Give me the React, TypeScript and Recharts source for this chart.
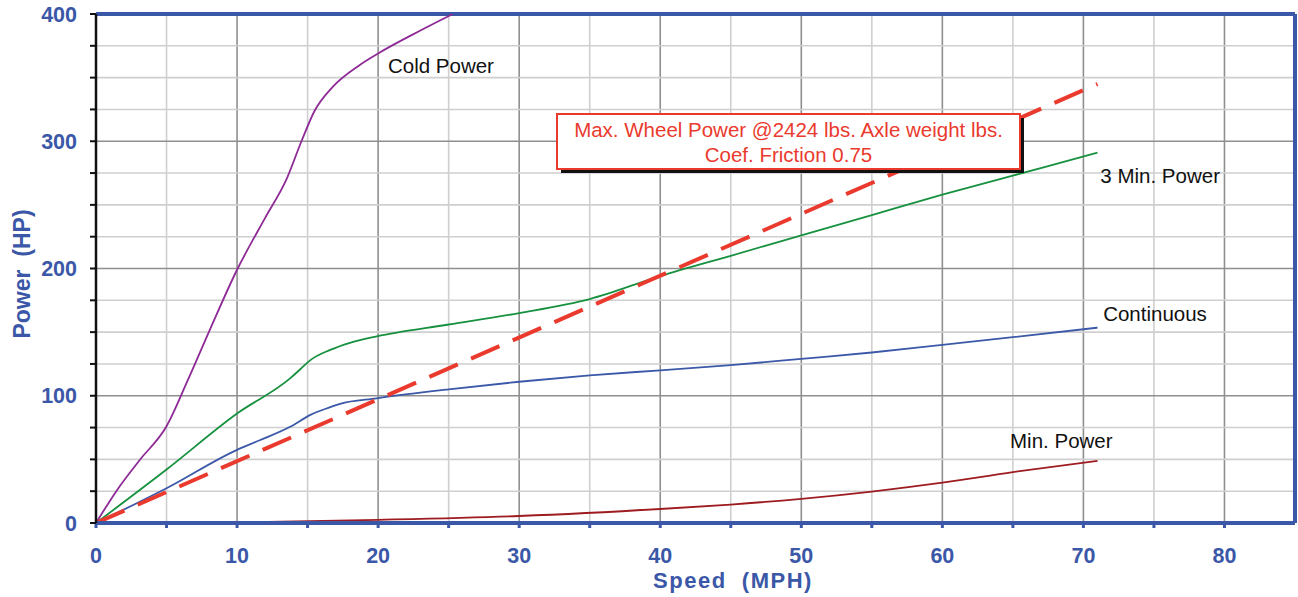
import React from 'react';
import { LineChart, Line, XAxis, YAxis, ReferenceLine, ReferenceDot } from 'recharts';

// ---- data (Speed in MPH, Power in HP) ----
const coldSpeed = [0, 1.5, 3.1, 5, 6.5, 8, 10, 12, 13.5, 14.6, 15.5, 16.8, 18.7, 20, 23, 25.3];
const coldPower = [0, 26, 49.5, 76, 112, 150, 199, 240, 270, 301, 324, 343, 360, 369, 387, 400];

const threeMinSpeed = [0, 5, 10, 13.8, 14.5, 15.2, 16.6, 18, 19.9, 25, 30, 35, 40, 45, 50, 55, 60, 65, 71];
const threeMinPower = [0, 42, 86, 114, 121, 128, 136, 141.6, 146.7, 156, 165, 176, 194, 210, 226, 242, 258, 273, 291];

const contSpeed = [0, 5, 10, 11.6, 13.8, 15.2, 16.6, 17.3, 19.9, 25, 30, 35, 40, 45, 50, 55, 60, 65, 71];
const contPower = [0, 27.3, 57.5, 65, 75.8, 85, 91, 93.7, 98, 105, 111, 116, 120, 124, 129, 134, 140, 146, 153.5];

const minSpeed = [0, 10, 20, 30, 40, 45, 50, 55, 60, 65, 71];
const minPower = [0, 0.5, 2.5, 5.5, 11, 14.5, 19, 24.7, 31.7, 40, 48.8];

const wheelSpeed = [0, 71];
const wheelPower = [0, 345];

const xTicks = [0, 5, 10, 15, 20, 25, 30, 35, 40, 45, 50, 55, 60, 65, 70, 75, 80];
const yTicks = [0, 25, 50, 75, 100, 125, 150, 175, 200, 225, 250, 275, 300, 325, 350, 375, 400];
const xGrid = [5, 10, 15, 20, 25, 30, 35, 40, 45, 50, 55, 60, 65, 70, 75, 80];
const yGrid = [25, 50, 75, 100, 125, 150, 175, 200, 225, 250, 275, 300, 325, 350, 375];

const seriesLabels = ['Cold Power', '3 Min. Power', 'Continuous', 'Min. Power'];
const seriesLabelSpeed = [20.7, 71.2, 71.4, 64.8];
const seriesLabelPower = [353.6, 267.2, 159.0, 59.2];

const noteLines = ['Max. Wheel Power @2424 lbs. Axle weight lbs.', 'Coef. Friction 0.75'];

const xTitle = 'Speed  (MPH)';
const yTitle = 'Power  (HP)';

const toPoints = (xs: number[], ys: number[]) => xs.map((v, i) => ({ v, p: ys[i] }));

const coldData = toPoints(coldSpeed, coldPower);
const threeMinData = toPoints(threeMinSpeed, threeMinPower);
const contData = toPoints(contSpeed, contPower);
const minData = toPoints(minSpeed, minPower);
const wheelData = toPoints(wheelSpeed, wheelPower);

const FONT = '"Liberation Sans", Arial, Helvetica, sans-serif';
const BLUE = '#3b57a7';
const RED = '#ea3a2e';

const XTick = (props: any) => {
  const { x, y, payload } = props;
  if (payload.value % 10 !== 0) return <g />;
  return (
    <text x={x} y={y} dy="0.71em" textAnchor="middle" fill={BLUE} fontFamily={FONT} fontWeight="bold" fontSize={21.5}>
      {payload.value}
    </text>
  );
};

const YTick = (props: any) => {
  const { x, y, payload } = props;
  if (payload.value % 100 !== 0) return <g />;
  return (
    <text x={x} y={y} dy="0.36em" textAnchor="end" fill={BLUE} fontFamily={FONT} fontWeight="bold" fontSize={21.5}>
      {payload.value}
    </text>
  );
};

const makeLabelShape = (text: string) => (props: any) => {
  const { cx, cy } = props;
  return (
    <text x={cx} y={cy} fill="#111" fontFamily={FONT} fontSize={20.5}>
      {text}
    </text>
  );
};

export default function App() {
  return (
    <div style={{ position: 'absolute', left: 0, top: 0, width: 1298, height: 597, background: '#fff' }}>
      <LineChart width={1298} height={597} margin={{ top: 14, right: 3, bottom: 24, left: 10 }}>
        <XAxis
          type="number"
          dataKey="v"
          domain={[0, 85]}
          ticks={xTicks}
          interval={0}
          allowDataOverflow
          height={50}
          axisLine={{ stroke: BLUE, strokeWidth: 4 }}
          tickLine={{ stroke: BLUE, strokeWidth: 3 }}
          tickSize={5}
          tickMargin={20}
          tick={<XTick />}
        />
        <YAxis
          type="number"
          dataKey="p"
          domain={[0, 400]}
          ticks={yTicks}
          interval={0}
          allowDataOverflow
          width={86}
          axisLine={{ stroke: '#111', strokeWidth: 2.5 }}
          tickLine={{ stroke: '#111', strokeWidth: 2 }}
          tickSize={6}
          tickMargin={13}
          tick={<YTick />}
        />
        {xGrid.map((g) => (
          <ReferenceLine key={'vx' + g} x={g} stroke={g % 10 === 0 ? '#8f8f8f' : '#cfcfcf'} strokeWidth={1.6} />
        ))}
        {yGrid.map((g) => (
          <ReferenceLine key={'hy' + g} y={g} stroke={g % 100 === 0 ? '#8f8f8f' : '#cfcfcf'} strokeWidth={1.6} />
        ))}
        <ReferenceLine y={400} stroke={BLUE} strokeWidth={4} />
        <ReferenceLine x={85} stroke={BLUE} strokeWidth={4} />

        <Line data={coldData} dataKey="p" type="monotone" stroke="#8e2a96" strokeWidth={1.8} dot={false} activeDot={false} isAnimationActive={false} />
        <Line data={threeMinData} dataKey="p" type="monotone" stroke="#17913f" strokeWidth={1.8} dot={false} activeDot={false} isAnimationActive={false} />
        <Line data={contData} dataKey="p" type="monotone" stroke="#3c58a8" strokeWidth={1.8} dot={false} activeDot={false} isAnimationActive={false} />
        <Line data={minData} dataKey="p" type="monotone" stroke="#9e1b20" strokeWidth={1.8} dot={false} activeDot={false} isAnimationActive={false} />
        <Line data={wheelData} dataKey="p" type="linear" stroke={RED} strokeWidth={4} strokeDasharray="31 14.5" dot={false} activeDot={false} isAnimationActive={false} />

        {seriesLabels.map((t, i) => (
          <ReferenceDot key={t} x={seriesLabelSpeed[i]} y={seriesLabelPower[i]} r={0} shape={makeLabelShape(t)} />
        ))}
      </LineChart>
      <svg width={1298} height={597} style={{ position: 'absolute', left: 0, top: 0, pointerEvents: 'none' }}>
        <g>
          <rect x={561} y={118} width={463} height={55} fill="#111" />
          <rect x={557} y={114} width={463} height={55} fill="#fff" stroke={RED} strokeWidth={2} />
          {noteLines.map((t, i) => (
            <text key={i} x={788.5} y={137 + i * 25} textAnchor="middle" fill={RED} fontFamily={FONT} fontSize={20.5}>
              {t}
            </text>
          ))}
        </g>
        <text x={733} y={588} textAnchor="middle" fill={BLUE} fontFamily={FONT} fontWeight="bold" fontSize={22} letterSpacing={1.5} style={{ whiteSpace: 'pre' }}>
          {xTitle}
        </text>
        <text x={30} y={274} textAnchor="middle" transform="rotate(-90, 30, 274)" fill={BLUE} fontFamily={FONT} fontWeight="bold" fontSize={23} style={{ whiteSpace: 'pre' }}>
          {yTitle}
        </text>
      </svg>
    </div>
  );
}
